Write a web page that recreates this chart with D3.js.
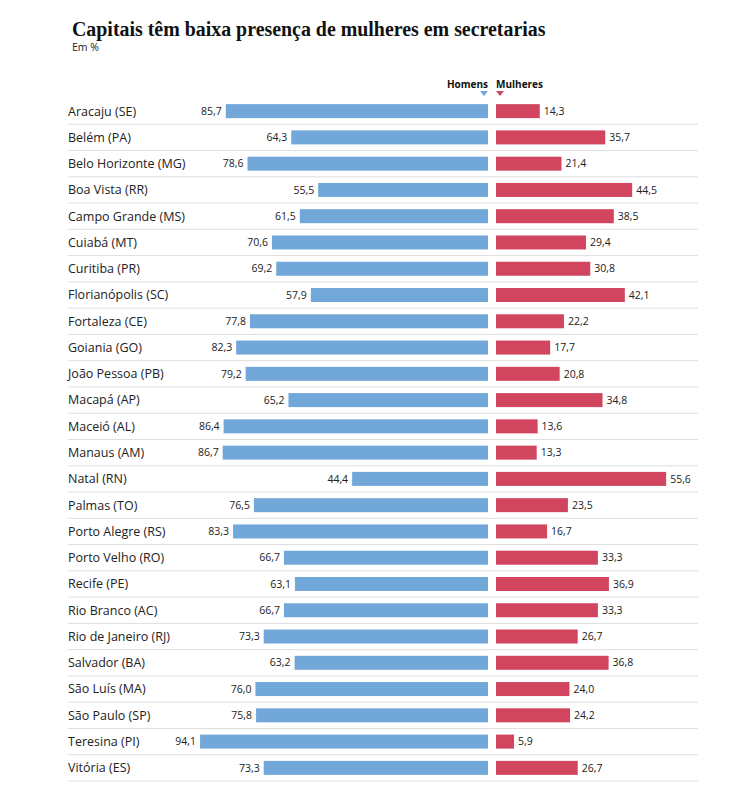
<!DOCTYPE html>
<html><head><meta charset="utf-8">
<script src="https://cdn.jsdelivr.net/npm/d3@7"></script>
<style>
body{margin:0;background:#fff;}
text{font-family:"Open Sans",sans-serif;}
</style></head>
<body><svg id="c" width="754" height="800"></svg>
<script>
const cities = ["Aracaju (SE)","Belém (PA)","Belo Horizonte (MG)","Boa Vista (RR)","Campo Grande (MS)","Cuiabá (MT)","Curitiba (PR)","Florianópolis (SC)","Fortaleza (CE)","Goiania (GO)","João Pessoa (PB)","Macapá (AP)","Maceió (AL)","Manaus (AM)","Natal (RN)","Palmas (TO)","Porto Alegre (RS)","Porto Velho (RO)","Recife (PE)","Rio Branco (AC)","Rio de Janeiro (RJ)","Salvador (BA)","São Luís (MA)","São Paulo (SP)","Teresina (PI)","Vitória (ES)"];
const homens = [85.7,64.3,78.6,55.5,61.5,70.6,69.2,57.9,77.8,82.3,79.2,65.2,86.4,86.7,44.4,76.5,83.3,66.7,63.1,66.7,73.3,63.2,76.0,75.8,94.1,73.3];
const mulheres = [14.3,35.7,21.4,44.5,38.5,29.4,30.8,42.1,22.2,17.7,20.8,34.8,13.6,13.3,55.6,23.5,16.7,33.3,36.9,33.3,26.7,36.8,24.0,24.2,5.9,26.7];
const seriesNames = ["Homens","Mulheres"];
const colors = ["#72a8d9","#d1455f"];

const svg = d3.select("#c");
const fmt = v => v.toFixed(1).replace(".", ",");

svg.append("text").attr("x",72).attr("y",36)
  .style("font-family","'Liberation Serif',serif").style("font-weight","bold").style("font-size","19.9px")
  .attr("fill","#111").text("Capitais têm baixa presença de mulheres em secretarias");
svg.append("text").attr("x",72).attr("y",51).style("font-size","10.5px").style("font-weight","500")
  .attr("fill","#222").text("Em %");

const y = d3.scaleBand().domain(cities).range([98, 781]).paddingInner(0).paddingOuter(0);
const xL = d3.scaleLinear().domain([0,100]).range([488, 182]);
const xR = d3.scaleLinear().domain([0,100]).range([496, 802]);
const bh = 14;

// header
svg.append("text").attr("x",xL(0)).attr("y",88).attr("text-anchor","end")
  .style("font-size","10px").style("font-weight","bold").attr("fill","#111").text(seriesNames[0]);
svg.append("text").attr("x",xR(0)).attr("y",88).attr("text-anchor","start")
  .style("font-size","10px").style("font-weight","bold").attr("fill","#111").text(seriesNames[1]);
const tri = (cx,col)=> svg.append("path").attr("d",`M${cx-4},91 L${cx+4},91 L${cx},96 Z`).attr("fill",col);
tri(xL(0)-4, colors[0]);
tri(xR(0)+4, colors[1]);

const g = svg.append("g");
cities.forEach((c,i)=>{
  const cy = y(c) + y.bandwidth()/2;
  g.append("line").attr("x1",68).attr("x2",698).attr("y1",y(c)+y.bandwidth()).attr("y2",y(c)+y.bandwidth())
    .attr("stroke","#dedede").attr("stroke-width",1);
  g.append("text").attr("x",68).attr("y",cy).attr("dy","0.35em").style("font-size","12.5px").attr("fill","#222").text(c);
  g.append("rect").attr("x",xL(homens[i])).attr("y",cy-bh/2).attr("width",xL(0)-xL(homens[i])).attr("height",bh).attr("fill",colors[0]);
  g.append("rect").attr("x",xR(0)).attr("y",cy-bh/2).attr("width",xR(mulheres[i])-xR(0)).attr("height",bh).attr("fill",colors[1]);
  g.append("text").attr("x",xL(homens[i])-4).attr("y",cy).attr("dy","0.35em").attr("text-anchor","end")
    .style("font-size","10.5px").attr("fill","#222").text(fmt(homens[i]));
  g.append("text").attr("x",xR(mulheres[i])+4).attr("y",cy).attr("dy","0.35em").attr("text-anchor","start")
    .style("font-size","10.5px").attr("fill","#222").text(fmt(mulheres[i]));
});
</script></body></html>
